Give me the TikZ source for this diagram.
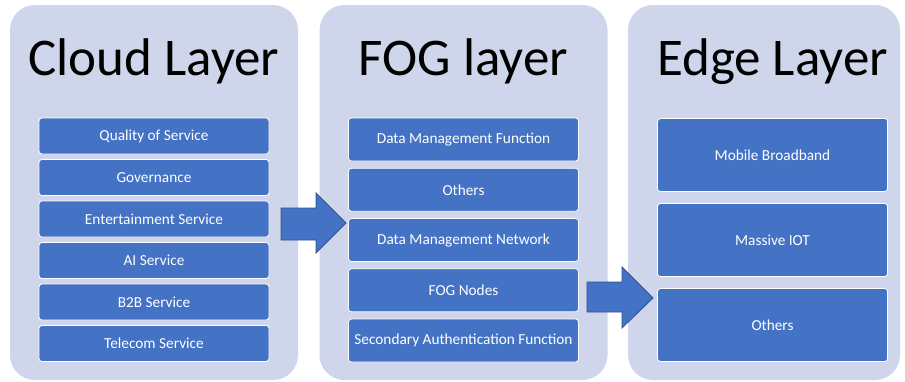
\documentclass[tikz,border=0pt]{standalone}
\usepackage{fontspec}
\setmainfont{Carlito}
\usetikzlibrary{positioning}
\definecolor{laybg}{HTML}{CFD5EA}
\definecolor{itemblue}{HTML}{4472C4}
\definecolor{arrowedge}{HTML}{2F528F}
\tikzset{
  layer/.style={draw=none, fill=laybg, rounded corners=25pt, minimum width=288pt, minimum height=375pt, inner sep=0pt},
  laytitle/.style={font=\fontsize{53}{53}\selectfont, anchor=base, inner sep=0pt},
  item/.style={draw=white, line width=0.8pt, fill=itemblue, text=white, rounded corners=3pt, minimum width=230pt, inner sep=0pt, font=\fontsize{15.3}{15.3}\selectfont},
  cloudit/.style={item, minimum height=36pt},
  fogit/.style={item, minimum height=43pt},
  edgeit/.style={item, minimum height=73pt},
  bigarrow/.style={draw=arrowedge, line width=0.8pt, fill=itemblue, line join=miter},
}

\begin{document}
\begin{tikzpicture}[x=1pt, y=-1pt]
\useasboundingbox (0,0) rectangle (905,381);
\node[layer] (cloud) at (154,192.5) {};
\node[layer] (fog) at (463.5,192.5) {};
\node[layer, minimum width=272pt] (edge) at (764,192.5) {};

\node[laytitle] (cloudt) at (154,75) {Cloud Layer};
\node[laytitle] (fogt) at (463.5,75) {FOG layer};
\node[laytitle] (edget) at (772.5,75) {Edge Layer};

\node[cloudit] (c1) at (154,136) {Quality of Service};
\node[cloudit, below=4.7pt of c1] (c2) {Governance};
\node[cloudit, below=4.7pt of c2] (c3) {Entertainment Service};
\node[cloudit, below=4.7pt of c3] (c4) {AI Service};
\node[cloudit, below=4.7pt of c4] (c5) {B2B Service};
\node[cloudit, below=4.7pt of c5] (c6) {Telecom Service};

\node[fogit] (f1) at (463.5,139.5) {Data Management Function};
\node[fogit, below=6.45pt of f1] (f2) {Others};
\node[fogit, below=6.45pt of f2] (f3) {Data Management Network};
\node[fogit, below=6.45pt of f3] (f4) {FOG Nodes};
\node[fogit, below=6.45pt of f4] (f5) {Secondary Authentication Function};

\node[edgeit] (e1) at (772.5,155) {Mobile Broadband};
\node[edgeit, below=11.2pt of e1] (e2) {Massive IOT};
\node[edgeit, below=11.2pt of e2] (e3) {Others};

\draw[bigarrow] (281,208) -- (316,208) -- (316,193) -- (346,223) -- (316,253) -- (316,240) -- (281,240) -- cycle;
\draw[bigarrow] (587,282) -- (622,282) -- (622,267) -- (653,298) -- (622,328) -- (622,312) -- (587,312) -- cycle;
\end{tikzpicture}
\end{document}
